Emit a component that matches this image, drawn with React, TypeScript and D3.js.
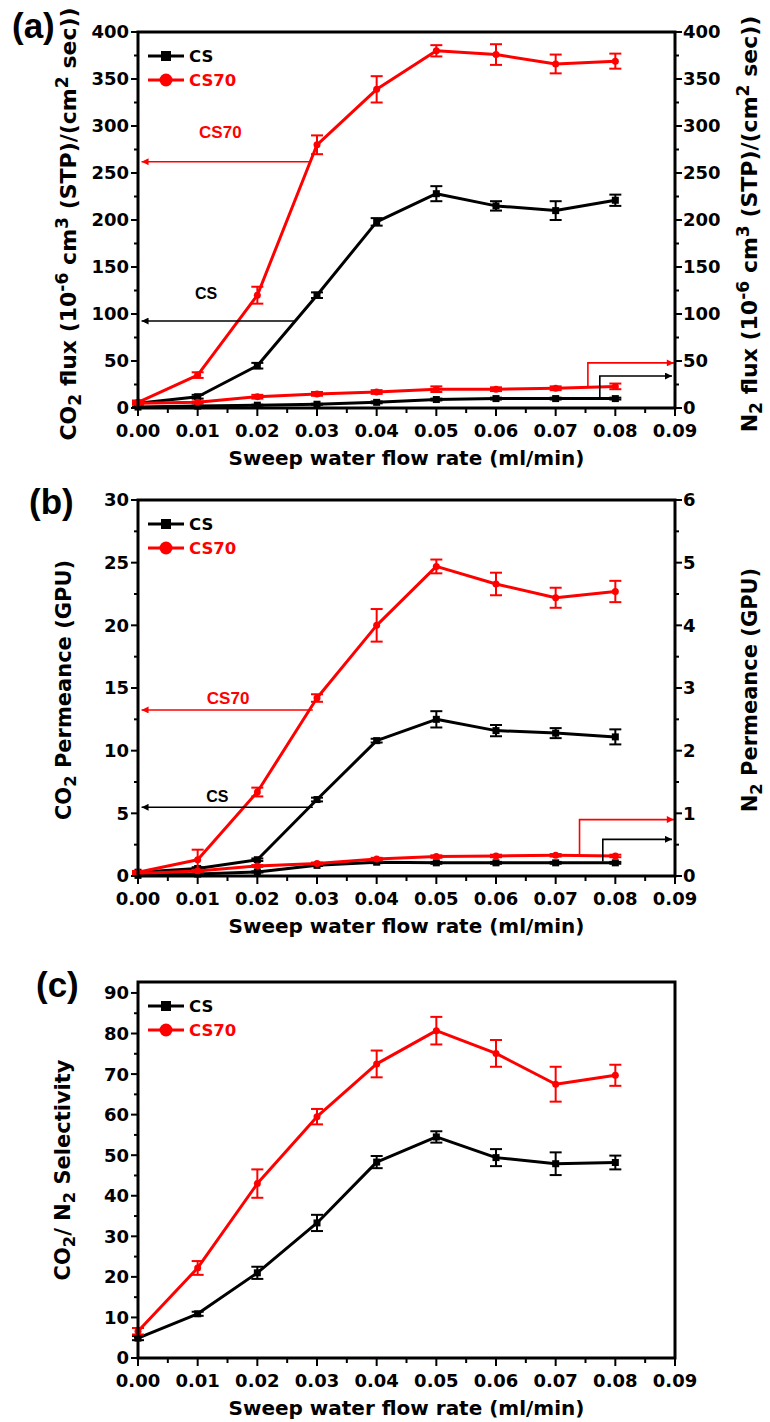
import React from 'react';
import * as d3 from 'd3';

// ---------------- data ----------------
const flowRate = [0, 0.01, 0.02, 0.03, 0.04, 0.05, 0.06, 0.07, 0.08];
const xTickValues = [0, 0.01, 0.02, 0.03, 0.04, 0.05, 0.06, 0.07, 0.08, 0.09];
const seriesNames = ['CS', 'CS70'];

// (a) flux, 10^-6 cm3(STP)/(cm2 sec)
const csCO2Flux = [5, 12, 45, 120, 198, 228, 215, 210, 221];
const csCO2FluxErr = [1, 2, 3, 3, 4, 8, 5, 10, 6];
const cs70CO2Flux = [6, 35, 120, 280, 339, 380, 376, 366, 369];
const cs70CO2FluxErr = [2, 3, 9, 10, 14, 6, 11, 10, 8];
const csN2Flux = [1, 2, 3, 4, 6, 9, 10, 10, 10];
const csN2FluxErr = [0.5, 0.5, 0.5, 0.5, 1, 1, 1, 1, 1];
const cs70N2Flux = [5, 6, 12, 15, 17, 20, 20, 21, 23];
const cs70N2FluxErr = [1, 1, 2, 2, 2, 3, 2, 2, 3];
const fluxTicks = [0, 50, 100, 150, 200, 250, 300, 350, 400];

// (b) permeance, GPU
const csCO2Perm = [0.3, 0.6, 1.3, 6.1, 10.8, 12.5, 11.6, 11.4, 11.1];
const csCO2PermErr = [0.1, 0.1, 0.1, 0.15, 0.15, 0.65, 0.45, 0.4, 0.6];
const cs70CO2Perm = [0.3, 1.3, 6.7, 14.2, 20.0, 24.7, 23.3, 22.2, 22.7];
const cs70CO2PermErr = [0.1, 0.8, 0.35, 0.3, 1.3, 0.55, 0.9, 0.8, 0.85];
const csN2Perm = [0.01, 0.03, 0.065, 0.17, 0.22, 0.21, 0.21, 0.21, 0.21];
const csN2PermErr = [0.01, 0.01, 0.01, 0.01, 0.015, 0.015, 0.015, 0.015, 0.015];
const cs70N2Perm = [0.04, 0.08, 0.16, 0.2, 0.27, 0.31, 0.32, 0.33, 0.32];
const cs70N2PermErr = [0.01, 0.015, 0.015, 0.015, 0.02, 0.02, 0.02, 0.02, 0.02];
const co2PermTicks = [0, 5, 10, 15, 20, 25, 30];
const n2PermTicks = [0, 1, 2, 3, 4, 5, 6];

// (c) selectivity
const csSel = [4.9, 10.9, 21, 33.3, 48.3, 54.5, 49.4, 47.9, 48.2];
const csSelErr = [0.5, 0.5, 1.5, 2, 1.5, 1.4, 2.1, 2.8, 1.7];
const cs70Sel = [6.6, 22.2, 43, 59.5, 72.5, 80.7, 75.1, 67.5, 69.7];
const cs70SelErr = [0.8, 1.7, 3.5, 1.9, 3.3, 3.4, 3.3, 4.3, 2.6];
const selTicks = [0, 10, 20, 30, 40, 50, 60, 70, 80, 90];

// ---------------- layout/style ----------------
const W = 770;
const H = 1422;
const PL = 138;
const PR = 675;
const FONT = "'DejaVu Sans', sans-serif";
const ARIAL = "'Liberation Sans', Arial, sans-serif";
const RED = '#ff0000';
const BLACK = '#000000';

type Part = { t: string; s?: 'sub' | 'sup' };

function Rich({ parts, ...rest }: any) {
  let off = 0;
  return (
    <text {...rest}>
      {parts.map((p: Part, i: number) => {
        const target = p.s === 'sub' ? 5 : p.s === 'sup' ? -8 : 0;
        const dy = target - off;
        off = target;
        return (
          <tspan key={i} dy={dy} fontSize={p.s ? '0.78em' : undefined}>
            {p.t}
          </tspan>
        );
      })}
    </text>
  );
}

type Series = {
  values: number[];
  errors: number[];
  color: string;
  shape: 'square' | 'circle';
  axis: 'left' | 'right';
};

type Arrow = {
  axis: 'left' | 'right';
  pts: [number, number][];
  color: string;
  label?: string;
  labelAt?: [number, number];
  labelSize?: number;
};

type PanelCfg = {
  top: number;
  bottom: number;
  leftDomain: [number, number];
  leftTicks: number[];
  rightDomain?: [number, number];
  rightTicks?: number[];
  series: Series[];
  arrows: Arrow[];
  letter: string;
  letterPos: [number, number];
  leftTitle: Part[];
  leftTitleX: number;
  rightTitle?: Part[];
  rightTitleX?: number;
  titleShift: number;
  titleSize: number;
};

function Marker({ shape, cx, cy, color, size }: any) {
  if (shape === 'square')
    return <rect x={cx - size / 2} y={cy - size / 2} width={size} height={size} fill={color} />;
  return <circle cx={cx} cy={cy} r={size / 2} fill={color} />;
}

function Panel({ cfg, id }: { cfg: PanelCfg; id: string }) {
  const x = d3.scaleLinear().domain([0, 0.09]).range([PL, PR]);
  const yL = d3.scaleLinear().domain(cfg.leftDomain).range([cfg.bottom, cfg.top]);
  const yR = cfg.rightDomain
    ? d3.scaleLinear().domain(cfg.rightDomain).range([cfg.bottom, cfg.top])
    : yL;
  const ys = (a: 'left' | 'right') => (a === 'left' ? yL : yR);

  const minorOf = (ticks: number[], dom: [number, number]) => {
    const st = ticks[1] - ticks[0];
    const out: number[] = [];
    for (let i = 0; i < ticks.length; i++) {
      const v = ticks[i] + st / 2;
      if (v <= dom[1] + 1e-9) out.push(v);
    }
    return out;
  };
  const xMinor = xTickValues.slice(0, -1).map((v) => v + 0.005);
  const midY = (cfg.top + cfg.bottom) / 2 + cfg.titleShift;

  const line = (s: Series) =>
    d3
      .line<number>()
      .x((_, i) => x(flowRate[i]))
      .y((v) => ys(s.axis)(v))(s.values) as string;

  const legendY = [cfg.top + 24, cfg.top + 48];

  return (
    <g>
      <defs>
        <marker id={`ah-red-${id}`} viewBox="0 0 10 10" refX="10" refY="5" markerWidth="9" markerHeight="7" markerUnits="userSpaceOnUse" orient="auto">
          <path d="M0,0 L10,5 L0,10 z" fill={RED} />
        </marker>
        <marker id={`ah-black-${id}`} viewBox="0 0 10 10" refX="10" refY="5" markerWidth="9" markerHeight="7" markerUnits="userSpaceOnUse" orient="auto">
          <path d="M0,0 L10,5 L0,10 z" fill={BLACK} />
        </marker>
      </defs>

      {/* data */}
      {cfg.series.map((s, si) => {
        const y = ys(s.axis);
        return (
          <g key={si}>
            <path d={line(s)} fill="none" stroke={s.color} strokeWidth={3} strokeLinejoin="round" />
            {s.values.map((v, i) => {
              const cx = x(flowRate[i]);
              const y1 = y(v - s.errors[i]);
              const y2 = y(v + s.errors[i]);
              return (
                <g key={i}>
                  <line x1={cx} x2={cx} y1={y1} y2={y2} stroke={s.color} strokeWidth={2} />
                  <line x1={cx - 6} x2={cx + 6} y1={y1} y2={y1} stroke={s.color} strokeWidth={2} />
                  <line x1={cx - 6} x2={cx + 6} y1={y2} y2={y2} stroke={s.color} strokeWidth={2} />
                  <Marker shape={s.shape} cx={cx} cy={y(v)} color={s.color} size={7} />
                </g>
              );
            })}
          </g>
        );
      })}

      {/* arrows */}
      {cfg.arrows.map((a, i) => {
        const y = ys(a.axis);
        const d = d3.line<[number, number]>().x((p) => x(p[0])).y((p) => y(p[1]))(a.pts) as string;
        return (
          <g key={i}>
            <path d={d} fill="none" stroke={a.color} strokeWidth={1.6}
              markerEnd={`url(#ah-${a.color === RED ? 'red' : 'black'}-${id})`} />
            {a.label && a.labelAt && (
              <text x={x(a.labelAt[0])} y={y(a.labelAt[1])} textAnchor="middle" fill={a.color}
                fontFamily={ARIAL} fontWeight="bold" fontSize={a.labelSize ?? 17}>
                {a.label}
              </text>
            )}
          </g>
        );
      })}

      {/* frame */}
      <rect x={PL} y={cfg.top} width={PR - PL} height={cfg.bottom - cfg.top} fill="none" stroke={BLACK} strokeWidth={3} />

      {/* x ticks */}
      {xTickValues.map((v) => (
        <g key={`xt${v}`}>
          <line x1={x(v)} x2={x(v)} y1={cfg.bottom} y2={cfg.bottom + 8} stroke={BLACK} strokeWidth={2} />
          <text x={x(v)} y={cfg.bottom + 29} textAnchor="middle" fontFamily={FONT} fontWeight="bold" fontSize={18}>
            {d3.format('.2f')(v)}
          </text>
        </g>
      ))}
      {xMinor.map((v) => (
        <line key={`xm${v}`} x1={x(v)} x2={x(v)} y1={cfg.bottom} y2={cfg.bottom + 5} stroke={BLACK} strokeWidth={2} />
      ))}

      {/* left ticks */}
      {cfg.leftTicks.map((v) => (
        <g key={`lt${v}`}>
          <line x1={PL - 7} x2={PL} y1={yL(v)} y2={yL(v)} stroke={BLACK} strokeWidth={2} />
          <text x={PL - 9} y={yL(v)} dy="0.36em" textAnchor="end" fontFamily={FONT} fontWeight="bold" fontSize={18}>
            {v}
          </text>
        </g>
      ))}
      {minorOf(cfg.leftTicks, cfg.leftDomain).map((v) => (
        <line key={`lm${v}`} x1={PL - 4} x2={PL} y1={yL(v)} y2={yL(v)} stroke={BLACK} strokeWidth={2} />
      ))}

      {/* right ticks */}
      {cfg.rightTicks &&
        cfg.rightTicks.map((v) => (
          <g key={`rt${v}`}>
            <line x1={PR} x2={PR + 7} y1={yR(v)} y2={yR(v)} stroke={BLACK} strokeWidth={2} />
            <text x={PR + 8} y={yR(v)} dy="0.36em" textAnchor="start" fontFamily={FONT} fontWeight="bold" fontSize={18}>
              {v}
            </text>
          </g>
        ))}
      {cfg.rightTicks &&
        minorOf(cfg.rightTicks, cfg.rightDomain!).map((v) => (
          <line key={`rm${v}`} x1={PR} x2={PR + 4} y1={yR(v)} y2={yR(v)} stroke={BLACK} strokeWidth={2} />
        ))}

      {/* legend */}
      {seriesNames.map((n, i) => {
        const col = i === 0 ? BLACK : RED;
        return (
          <g key={n}>
            <line x1={148} x2={184} y1={legendY[i]} y2={legendY[i]} stroke={col} strokeWidth={3} />
            <Marker shape={i === 0 ? 'square' : 'circle'} cx={166} cy={legendY[i]} color={col} size={i === 0 ? 10 : 13} />
            <text x={189} y={legendY[i] + 6} fill={col} fontFamily={FONT} fontWeight="bold" fontSize={16.5}>
              {n}
            </text>
          </g>
        );
      })}

      {/* titles */}
      <text x={(PL + PR) / 2} y={cfg.bottom + 57} textAnchor="middle" fontFamily={FONT} fontWeight="bold" fontSize={20}>
        Sweep water flow rate (ml/min)
      </text>
      <Rich parts={cfg.leftTitle} transform={`translate(${cfg.leftTitleX},${midY}) rotate(-90)`}
        textAnchor="middle" fontFamily={FONT} fontWeight="bold" fontSize={cfg.titleSize} />
      {cfg.rightTitle && (
        <Rich parts={cfg.rightTitle} transform={`translate(${cfg.rightTitleX},${midY}) rotate(-90)`}
          textAnchor="middle" fontFamily={FONT} fontWeight="bold" fontSize={cfg.titleSize} />
      )}
      <text x={cfg.letterPos[0]} y={cfg.letterPos[1]} fontFamily={ARIAL} fontWeight="bold" fontSize={35}>
        {cfg.letter}
      </text>
    </g>
  );
}

const fluxTitleTail: Part[] = [
  { t: ' flux (10' }, { t: '-6', s: 'sup' }, { t: ' cm' }, { t: '3', s: 'sup' },
  { t: ' (STP)/(cm' }, { t: '2', s: 'sup' }, { t: ' sec))' },
];

const panelA: PanelCfg = {
  top: 32, bottom: 408,
  leftDomain: [0, 400], leftTicks: fluxTicks,
  rightDomain: [0, 400], rightTicks: fluxTicks,
  series: [
    { values: csCO2Flux, errors: csCO2FluxErr, color: BLACK, shape: 'square', axis: 'left' },
    { values: csN2Flux, errors: csN2FluxErr, color: BLACK, shape: 'square', axis: 'right' },
    { values: cs70CO2Flux, errors: cs70CO2FluxErr, color: RED, shape: 'circle', axis: 'left' },
    { values: cs70N2Flux, errors: cs70N2FluxErr, color: RED, shape: 'circle', axis: 'right' },
  ],
  arrows: [
    { axis: 'left', pts: [[0.0288, 262], [0.0006, 262]], color: RED, label: 'CS70', labelAt: [0.0138, 287] },
    { axis: 'left', pts: [[0.0263, 92.5], [0.0006, 92.5]], color: BLACK, label: 'CS', labelAt: [0.0114, 116], labelSize: 16 },
    { axis: 'right', pts: [[0.0754, 23], [0.0754, 48], [0.0898, 48]], color: RED },
    { axis: 'right', pts: [[0.0774, 10], [0.0774, 34], [0.0895, 34]], color: BLACK },
  ],
  letter: '(a)', letterPos: [12, 38],
  leftTitle: [{ t: 'CO' }, { t: '2', s: 'sub' }, ...fluxTitleTail],
  leftTitleX: 76,
  rightTitle: [{ t: 'N' }, { t: '2', s: 'sub' }, ...fluxTitleTail],
  rightTitleX: 757,
  titleShift: 4,
  titleSize: 22,
};

const panelB: PanelCfg = {
  top: 500, bottom: 876,
  leftDomain: [0, 30], leftTicks: co2PermTicks,
  rightDomain: [0, 6], rightTicks: n2PermTicks,
  series: [
    { values: csCO2Perm, errors: csCO2PermErr, color: BLACK, shape: 'square', axis: 'left' },
    { values: csN2Perm, errors: csN2PermErr, color: BLACK, shape: 'square', axis: 'right' },
    { values: cs70CO2Perm, errors: cs70CO2PermErr, color: RED, shape: 'circle', axis: 'left' },
    { values: cs70N2Perm, errors: cs70N2PermErr, color: RED, shape: 'circle', axis: 'right' },
  ],
  arrows: [
    { axis: 'left', pts: [[0.0293, 13.25], [0.0006, 13.25]], color: RED, label: 'CS70', labelAt: [0.0151, 13.7] },
    { axis: 'left', pts: [[0.0293, 5.48], [0.0006, 5.48]], color: BLACK, label: 'CS', labelAt: [0.0133, 5.9], labelSize: 16 },
    { axis: 'right', pts: [[0.074, 0.34], [0.074, 0.9], [0.0898, 0.9]], color: RED },
    { axis: 'right', pts: [[0.0779, 0.23], [0.0779, 0.585], [0.0895, 0.585]], color: BLACK },
  ],
  letter: '(b)', letterPos: [29, 514],
  leftTitle: [{ t: 'CO' }, { t: '2', s: 'sub' }, { t: ' Permeance (GPU)' }],
  leftTitleX: 71,
  rightTitle: [{ t: 'N' }, { t: '2', s: 'sub' }, { t: ' Permeance (GPU)' }],
  rightTitleX: 757,
  titleShift: 2,
  titleSize: 21,
};

const panelC: PanelCfg = {
  top: 982, bottom: 1358,
  leftDomain: [0, 92.7], leftTicks: selTicks,
  series: [
    { values: csSel, errors: csSelErr, color: BLACK, shape: 'square', axis: 'left' },
    { values: cs70Sel, errors: cs70SelErr, color: RED, shape: 'circle', axis: 'left' },
  ],
  arrows: [],
  letter: '(c)', letterPos: [36, 997],
  leftTitle: [{ t: 'CO' }, { t: '2', s: 'sub' }, { t: '/ N' }, { t: '2', s: 'sub' }, { t: ' Selectivity' }],
  leftTitleX: 70,
  titleShift: 0,
  titleSize: 21,
};

export default function App() {
  return (
    <svg width={W} height={H} viewBox={`0 0 ${W} ${H}`}
      style={{ position: 'absolute', left: 0, top: 0, background: '#fff' }}>
      <rect width={W} height={H} fill="#fff" />
      <Panel cfg={panelA} id="a" />
      <Panel cfg={panelB} id="b" />
      <Panel cfg={panelC} id="c" />
    </svg>
  );
}
